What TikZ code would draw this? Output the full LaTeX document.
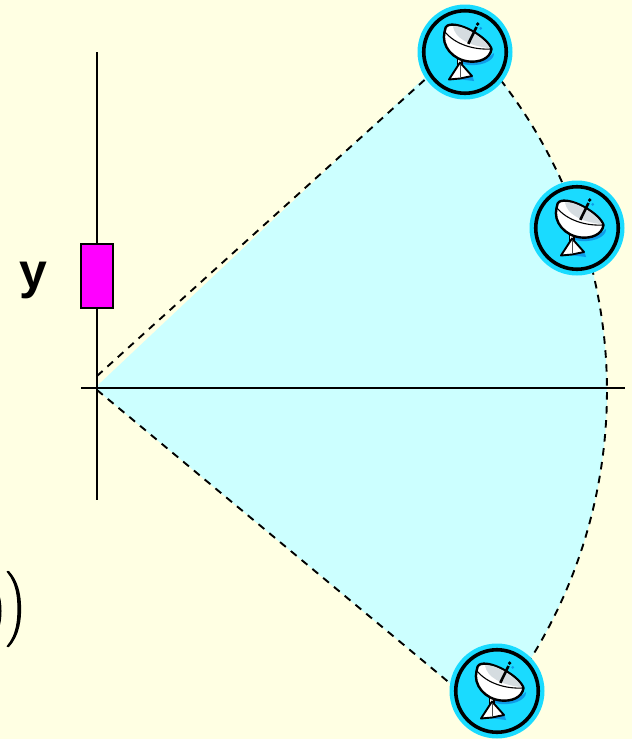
\documentclass[tikz,border=0pt]{standalone}
\usepackage{fontspec}
\setmainfont{Liberation Sans}
\definecolor{paper}{HTML}{FFFFE3}
\definecolor{sector}{HTML}{CCFFFF}
\definecolor{dishcyan}{HTML}{1ADBFF}
\definecolor{dishshade}{HTML}{0F9BE8}
\definecolor{dishgrey}{HTML}{D5DCE0}
\definecolor{boxmag}{HTML}{FF00FF}
\tikzset{
  axisline/.style={line width=2pt,black},
  rimline/.style={line width=1.9pt,black,dash pattern=on 7.5pt off 6.5pt},
  dishdisc/.style={circle,fill=dishcyan,inner sep=0pt,minimum size=95pt},
  dishring/.style={circle,draw=black,line width=3.6pt,inner sep=0pt,minimum size=82.5pt},
  magbox/.style={draw=black,fill=boxmag,line width=2pt,inner sep=0pt,minimum width=32pt,minimum height=64pt},
  biglabel/.style={font=\bfseries\fontsize{50}{50}\selectfont,inner sep=0pt},
  delim/.style={inner sep=0pt}
}
\newcommand{\heavy}[1]{\special{pdf:code q 2 Tr 0.5 w}#1\special{pdf:code Q}}
\newcommand{\dishicon}[2]{%
  \begin{scope}[shift={(#1,#2)}]
    % shadows
    \fill[dishshade] (-18,-8) .. controls (-10,10) and (14,15) .. (29,1) .. controls (30,9) and (14,16) .. (-2,12) -- cycle;
    \fill[dishshade] (-8,27) -- (9,29) -- (7,22) -- cycle;
    \fill[dishshade] (15.7,-23.7) circle[radius=1.5];
    % stem
    \fill[white,draw=black,line width=1.5pt] (-7.5,6) rectangle (-3,13);
    % tripod
    \fill[white,draw=black,line width=1.9pt,line join=round] (-5,10.5) -- (-16,27.5) -- (-5,26.5) -- (7,24) -- cycle;
    \draw[black!70,line width=.6pt] (-5,12) -- (-5,25);
    % bowl
    \fill[white,draw=black,line width=2.4pt,line join=round]
      (-20.5,-20) .. controls (-24,-6) and (-12,8) .. (4,9.5)
      .. controls (14,10.5) and (25,7) .. (26.5,-3)
      .. controls (23,-14) and (-4,-30) .. (-16,-27)
      .. controls (-19,-26.5) and (-20.5,-23) .. (-20.5,-20) -- cycle;
    % inside of the dish
    \fill[dishgrey] (-12,-25.5) .. controls (-10,-14) and (4,-6) .. (25,-3.8)
      .. controls (20,-14) and (-3,-28) .. (-12,-25.5) -- cycle;
    \draw[black,line width=1.1pt] (-20,-20) .. controls (-10,-8) and (8,-2) .. (26,-3);
    % feed arm
    \draw[black,line width=2.6pt] (3.3,-8.2) -- (11.5,-25);
    \fill[black] (12.7,-27.9) circle[radius=1.9];
  \end{scope}}
\begin{document}
\begin{tikzpicture}[x=1pt,y=-1pt]
  \useasboundingbox[fill=paper] (0,0) rectangle (632,739);
  \coordinate (apex) at (97,388);
  \coordinate (fillApex) at (97,386);
  \coordinate (fillTop) at (427,75);
  \coordinate (axisTop) at (97,52);
  \coordinate (axisBottom) at (97,500);
  \coordinate (axisLeft) at (81,388);
  \coordinate (axisRight) at (625,388);
  \coordinate (rimTopStart) at (97,376);
  \coordinate (rimTopEnd) at (440,66);
  \coordinate (rimBottomStart) at (97,390);
  \coordinate (rimBottomEnd) at (487,714);
  % sector
  \fill[sector] (fillApex) -- (fillTop)
    -- plot[domain=-42.5:39.8,samples=80] ({99+508*cos(\x)},{391+508*sin(\x)})
    -- (rimBottomStart) -- cycle;
  \draw[rimline] plot[domain=-42.5:39.8,samples=80] ({99+508*cos(\x)},{391+508*sin(\x)});
  \draw[rimline] (rimTopStart) -- (rimTopEnd);
  \draw[rimline] (rimBottomStart) -- (rimBottomEnd);
  % axes
  \draw[axisline] (axisTop) -- (axisBottom);
  \draw[axisline] (axisLeft) -- (axisRight);
  % box and label
  \node[magbox] (sensor) at (97,276) {};
  \node[biglabel] (ylabel) at (33,280) {y};
  % fragments of a formula
  \node[delim,scale=2.5] (outerparen) at (16.5,609) {\heavy{$\Bigg)$}};
  \node[delim,scale=1.9] (innerparen) at (-2,611) {\heavy{$\Bigg)$}};
  % dishes
  \node[dishdisc] (dishA) at (465,52) {};
  \node[dishring] (ringA) at (dishA) {};
  \dishicon{465}{52}
  \node[dishdisc] (dishB) at (577,228) {};
  \node[dishring] (ringB) at (dishB) {};
  \dishicon{577}{228}
  \node[dishdisc] (dishC) at (497,691) {};
  \node[dishring] (ringC) at (dishC) {};
  \dishicon{497}{691}
\end{tikzpicture}
\end{document}
